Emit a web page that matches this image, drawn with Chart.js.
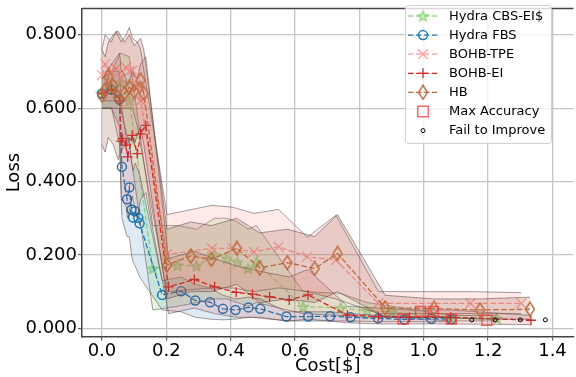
<!DOCTYPE html>
<html>
<head>
<meta charset="utf-8">
<script src="https://cdn.jsdelivr.net/npm/chart.js@4.4.1/dist/chart.umd.min.js"></script>
<style>
html, body { margin: 0; padding: 0; background: #ffffff; overflow: hidden; }
#wrap { width: 576px; height: 377px; overflow: hidden; }
</style>
</head>
<body>
<div id="wrap"><canvas id="myChart" width="582" height="377"></canvas></div>
<script>
// 目盛り
var x_ticks = [0.0, 0.2, 0.4, 0.6, 0.8, 1.0, 1.2, 1.4];
var y_ticks = [0.0, 0.2, 0.4, 0.6, 0.8];

// Hydra CBS-EI$
var cbs_cost = [0.0, 0.03, 0.057, 0.085, 0.158, 0.235, 0.294, 0.35, 0.388, 0.421, 0.454, 0.48, 0.625, 0.742, 0.824, 0.9, 1.085, 1.227];
var cbs_loss = [0.64, 0.65, 0.67, 0.62, 0.163, 0.172, 0.17, 0.2, 0.19, 0.181, 0.163, 0.181, 0.059, 0.056, 0.047, 0.045, 0.027, 0.027];
var cbs_lo   = [0.6, 0.6, 0.6, 0.5, 0.05, 0.06, 0.07, 0.08, 0.08, 0.07, 0.06, 0.07, 0.04, 0.035, 0.03, 0.03, 0.02, 0.02];
var cbs_hi   = [0.68, 0.7, 0.75, 0.74, 0.28, 0.28, 0.27, 0.3, 0.3, 0.29, 0.27, 0.28, 0.1, 0.095, 0.07, 0.06, 0.035, 0.035];

// Hydra FBS
var fbs_cost = [0.0, 0.03, 0.054, 0.062, 0.078, 0.085, 0.092, 0.097, 0.103, 0.113, 0.117, 0.187, 0.246, 0.29, 0.336, 0.376, 0.415, 0.455, 0.492, 0.573, 0.641, 0.709, 0.772, 0.858, 0.94, 1.023, 1.086];
var fbs_loss = [0.64, 0.65, 0.624, 0.44, 0.352, 0.384, 0.324, 0.302, 0.319, 0.301, 0.286, 0.091, 0.101, 0.076, 0.071, 0.053, 0.05, 0.057, 0.053, 0.032, 0.032, 0.033, 0.03, 0.027, 0.024, 0.026, 0.025];
var fbs_lo   = [0.6, 0.6, 0.55, 0.3, 0.25, 0.25, 0.2, 0.18, 0.17, 0.15, 0.14, 0.05, 0.045, 0.03, 0.025, 0.023, 0.025, 0.03, 0.03, 0.02, 0.02, 0.02, 0.02, 0.018, 0.018, 0.018, 0.018];
var fbs_hi   = [0.68, 0.7, 0.7, 0.6, 0.5, 0.52, 0.45, 0.43, 0.45, 0.43, 0.42, 0.13, 0.14, 0.12, 0.11, 0.09, 0.08, 0.085, 0.08, 0.045, 0.045, 0.045, 0.04, 0.035, 0.032, 0.032, 0.032];

// BOHB-TPE
var tpe_cost = [0.0, 0.01, 0.029, 0.044, 0.06, 0.075, 0.085, 0.095, 0.11, 0.12, 0.202, 0.342, 0.406, 0.472, 0.549, 0.638, 0.727, 0.859, 1.145, 1.303];
var tpe_loss = [0.69, 0.72, 0.698, 0.708, 0.68, 0.712, 0.7, 0.703, 0.66, 0.62, 0.202, 0.218, 0.218, 0.208, 0.222, 0.195, 0.186, 0.068, 0.068, 0.068];
var tpe_lo   = [0.62, 0.62, 0.62, 0.62, 0.6, 0.6, 0.6, 0.6, 0.55, 0.5, 0.1, 0.11, 0.11, 0.1, 0.11, 0.1, 0.08, 0.04, 0.04, 0.04];
var tpe_hi   = [0.76, 0.8, 0.78, 0.81, 0.78, 0.8, 0.82, 0.79, 0.78, 0.76, 0.31, 0.335, 0.33, 0.313, 0.324, 0.248, 0.308, 0.1, 0.1, 0.097];

// BOHB-EI
var ei_cost = [0.0, 0.03, 0.055, 0.06, 0.064, 0.075, 0.08, 0.094, 0.11, 0.12, 0.136, 0.207, 0.287, 0.35, 0.417, 0.468, 0.521, 0.582, 0.64, 0.763, 0.859, 0.956, 1.084, 1.333];
var ei_loss = [0.64, 0.65, 0.62, 0.51, 0.517, 0.499, 0.467, 0.526, 0.476, 0.53, 0.553, 0.113, 0.133, 0.113, 0.098, 0.093, 0.086, 0.077, 0.091, 0.036, 0.032, 0.03, 0.03, 0.022];
var ei_lo   = [0.6, 0.6, 0.5, 0.35, 0.35, 0.33, 0.3, 0.36, 0.3, 0.35, 0.37, 0.04, 0.055, 0.04, 0.03, 0.03, 0.025, 0.02, 0.025, 0.015, 0.012, 0.012, 0.012, 0.01];
var ei_hi   = [0.68, 0.72, 0.75, 0.7, 0.7, 0.68, 0.66, 0.7, 0.68, 0.72, 0.74, 0.19, 0.21, 0.19, 0.17, 0.16, 0.15, 0.14, 0.16, 0.06, 0.055, 0.05, 0.05, 0.035];

// HB
var hb_cost = [0.0, 0.01, 0.02, 0.035, 0.05, 0.07, 0.085, 0.1, 0.12, 0.13, 0.202, 0.276, 0.34, 0.419, 0.49, 0.576, 0.661, 0.732, 0.88, 1.032, 1.175, 1.33];
var hb_loss = [0.635, 0.65, 0.685, 0.66, 0.63, 0.64, 0.657, 0.645, 0.676, 0.64, 0.172, 0.197, 0.188, 0.218, 0.164, 0.179, 0.163, 0.204, 0.056, 0.054, 0.05, 0.052];
var hb_lo   = [0.5, 0.48, 0.52, 0.5, 0.46, 0.5, 0.52, 0.5, 0.55, 0.5, 0.08, 0.1, 0.1, 0.12, 0.07, 0.08, 0.07, 0.1, 0.03, 0.03, 0.025, 0.025];
var hb_hi   = [0.76, 0.74, 0.78, 0.8, 0.81, 0.78, 0.8, 0.77, 0.79, 0.76, 0.27, 0.29, 0.28, 0.3, 0.26, 0.27, 0.25, 0.31, 0.09, 0.08, 0.08, 0.085];

// Max Accuracy / Fail to Improve
var max_cost = [0.936, 0.99, 1.03, 1.086, 1.196];
var max_loss = [0.025, 0.046, 0.046, 0.025, 0.022];
var fail_cost = [1.149, 1.222, 1.30, 1.378];
var fail_loss = [0.023, 0.023, 0.023, 0.023];

/* 座標の配列を作る */
function pts(xs, ys) {
	var out = [];
	for (var i = 0; i < xs.length; i++) out.push({x: xs[i], y: ys[i]});
	return out;
}

/* マーカー画像 */
function make_star(color, fill) {
	var c = document.createElement('canvas');
	c.width = 13; c.height = 13;
	var g = c.getContext('2d');
	g.beginPath();
	for (var i = 0; i < 10; i++) {
		var r = (i % 2 == 0) ? 5.5 : 2.3;
		var a = -Math.PI / 2 + i * Math.PI / 5;
		var px = 6.5 + r * Math.cos(a), py = 7 + r * Math.sin(a);
		if (i == 0) g.moveTo(px, py); else g.lineTo(px, py);
	}
	g.closePath();
	g.fillStyle = fill;
	g.fill();
	g.strokeStyle = color;
	g.lineWidth = 1.2;
	g.stroke();
	return c;
}
function make_diamond(color) {
	var c = document.createElement('canvas');
	c.width = 12; c.height = 16;
	var g = c.getContext('2d');
	g.beginPath();
	g.moveTo(6, 1); g.lineTo(10.5, 8); g.lineTo(6, 15); g.lineTo(1.5, 8);
	g.closePath();
	g.strokeStyle = color;
	g.lineWidth = 1.4;
	g.stroke();
	return c;
}

var edge_color = 'rgba(80,60,60,0.5)';

var series = [
	{name: 'Hydra CBS-EI$', cost: cbs_cost, loss: cbs_loss, lo: cbs_lo, hi: cbs_hi, color: '#98df8a', band: 'rgba(152,223,138,0.25)', style: make_star('#8fd67f', 'rgba(152,223,138,0.45)'), radius: 6, bw: 1.2},
	{name: 'Hydra FBS', cost: fbs_cost, loss: fbs_loss, lo: fbs_lo, hi: fbs_hi, color: '#1f77b4', band: 'rgba(31,119,180,0.15)', style: 'circle', radius: 4.5, bw: 1.5},
	{name: 'BOHB-TPE', cost: tpe_cost, loss: tpe_loss, lo: tpe_lo, hi: tpe_hi, color: '#ff9896', band: 'rgba(255,152,150,0.2)', style: 'crossRot', radius: 7, bw: 1.2},
	{name: 'BOHB-EI', cost: ei_cost, loss: ei_loss, lo: ei_lo, hi: ei_hi, color: '#d62728', band: 'rgba(214,39,40,0.13)', style: 'cross', radius: 5, bw: 1.3},
	{name: 'HB', cost: hb_cost, loss: hb_loss, lo: hb_lo, hi: hb_hi, color: '#bc6a3c', band: 'rgba(150,90,70,0.22)', style: make_diamond('#bc6a3c'), radius: 6, bw: 1.4}
];

var datasets = [];
for (var i = 0; i < series.length; i++) {
	var s = series[i];
	datasets.push({
		data: pts(s.cost, s.hi), borderColor: edge_color, borderWidth: 1,
		backgroundColor: s.band, fill: '+1', pointRadius: 0, tension: 0
	});
	datasets.push({
		data: pts(s.cost, s.lo), borderColor: edge_color, borderWidth: 1,
		fill: false, pointRadius: 0, tension: 0
	});
	datasets.push({
		data: pts(s.cost, s.loss), borderColor: s.color, borderWidth: 1.3, borderDash: [5.5, 2.4],
		fill: false, tension: 0, pointStyle: s.style, pointRadius: s.radius,
		pointBorderColor: s.color, pointBackgroundColor: 'rgba(0,0,0,0)', pointBorderWidth: s.bw
	});
}
datasets.push({
	data: pts(max_cost, max_loss), showLine: false, pointStyle: 'rect', pointRadius: 7,
	pointBorderColor: 'rgba(240,60,60,0.8)', pointBackgroundColor: 'rgba(0,0,0,0)', pointBorderWidth: 1.5
});
datasets.push({
	data: pts(fail_cost, fail_loss), showLine: false, pointStyle: 'circle', pointRadius: 2,
	pointBorderColor: '#000000', pointBackgroundColor: 'rgba(0,0,0,0)', pointBorderWidth: 1
});
// 後の系列を上に描く
for (var i = 0; i < datasets.length; i++) datasets[i].order = 1000 - i;

/* 凡例 */
var legend_items = [
	{text: 'Hydra CBS-EI$', s: series[0]},
	{text: 'Hydra FBS', s: series[1]},
	{text: 'BOHB-TPE', s: series[2]},
	{text: 'BOHB-EI', s: series[3]},
	{text: 'HB', s: series[4]},
	{text: 'Max Accuracy', s: {color: 'rgba(240,60,60,0.75)', style: 'rect', radius: 7.5, bw: 1.5}, noline: true},
	{text: 'Fail to Improve', s: {color: '#000000', style: 'circle', radius: 2, bw: 1}, noline: true}
];

function draw_marker(ctx, st, r, bw, color, x, y) {
	ctx.save();
	ctx.setLineDash([]);
	ctx.strokeStyle = color;
	ctx.lineWidth = bw;
	ctx.beginPath();
	if (typeof st !== 'string') {
		ctx.drawImage(st, x - st.width / 2, y - st.height / 2);
	} else if (st == 'circle') {
		ctx.arc(x, y, r, 0, Math.PI * 2);
		ctx.stroke();
	} else if (st == 'rect') {
		var h = r / Math.SQRT2;
		ctx.rect(x - h, y - h, 2 * h, 2 * h);
		ctx.stroke();
	} else if (st == 'cross') {
		ctx.moveTo(x - r, y); ctx.lineTo(x + r, y);
		ctx.moveTo(x, y - r); ctx.lineTo(x, y + r);
		ctx.stroke();
	} else if (st == 'crossRot') {
		var d = r * Math.SQRT1_2;
		ctx.moveTo(x - d, y - d); ctx.lineTo(x + d, y + d);
		ctx.moveTo(x - d, y + d); ctx.lineTo(x + d, y - d);
		ctx.stroke();
	}
	ctx.restore();
}

var legend_plugin = {
	id: 'my_legend',
	afterDraw: function(chart) {
		var ctx = chart.ctx;
		var area = chart.chartArea;
		ctx.save();
		// 上の枠線
		ctx.strokeStyle = '#444444';
		ctx.lineWidth = 1.3;
		ctx.beginPath();
		ctx.moveTo(area.left, area.top);
		ctx.lineTo(area.right, area.top);
		ctx.stroke();

		// 凡例の枠
		var bx = 405.5, by = 5.5, bw = 146, bh = 138, rr = 3;
		ctx.beginPath();
		ctx.moveTo(bx + rr, by);
		ctx.arcTo(bx + bw, by, bx + bw, by + bh, rr);
		ctx.arcTo(bx + bw, by + bh, bx, by + bh, rr);
		ctx.arcTo(bx, by + bh, bx, by, rr);
		ctx.arcTo(bx, by, bx + bw, by, rr);
		ctx.closePath();
		ctx.fillStyle = 'rgba(255,255,255,0.8)';
		ctx.fill();
		ctx.strokeStyle = '#d0d0d0';
		ctx.lineWidth = 1;
		ctx.stroke();

		ctx.font = '13px "DejaVu Sans"';
		ctx.textBaseline = 'middle';
		ctx.textAlign = 'left';
		for (var i = 0; i < legend_items.length; i++) {
			var it = legend_items[i];
			var y = 16 + i * 19.1;
			if (!it.noline) {
				ctx.save();
				ctx.strokeStyle = it.s.color;
				ctx.lineWidth = 1.3;
				ctx.setLineDash([5.5, 2.4]);
				ctx.beginPath();
				ctx.moveTo(408, y);
				ctx.lineTo(438, y);
				ctx.stroke();
				ctx.restore();
			}
			draw_marker(ctx, it.s.style, it.s.radius, it.s.bw, it.s.color, 423, y);
			ctx.fillStyle = '#000000';
			ctx.fillText(it.text, 449, y + 0.5);
		}
		ctx.restore();
	}
};

var ctx = document.getElementById('myChart').getContext('2d');
var myChart = new Chart(ctx, {
	type: 'line',
	data: { datasets: datasets },
	plugins: [legend_plugin],
	options: {
		responsive: false,
		animation: false,
		devicePixelRatio: 1,
		layout: { padding: { top: 8, left: 0, right: 0, bottom: 0 } },
		plugins: {
			legend: { display: false },
			tooltip: { enabled: false }
		},
		scales: {
			x: {
				type: 'linear',
				min: -0.062,
				max: 1.4653,
				afterBuildTicks: function(s) { s.ticks = x_ticks.map(function(v) { return {value: v}; }); },
				afterFit: function(s) { s.height = 40.3; s.paddingLeft = 0; s.paddingRight = 0; },
				grid: { color: '#c4c4c4', lineWidth: 1.3, tickLength: 4, tickColor: '#444444', tickWidth: 1 },
				border: { color: '#444444', width: 1.5 },
				ticks: {
					color: '#000000', padding: 0, maxRotation: 0,
					font: { family: 'DejaVu Sans', size: 18 },
					callback: function(v) { return Number(v).toFixed(1); }
				},
				title: {
					display: true, text: 'Cost[$]', color: '#000000',
					font: { family: 'DejaVu Sans', size: 18 },
					padding: { top: 0, bottom: 0 }
				}
			},
			y: {
				min: -0.0229,
				max: 0.8716,
				afterBuildTicks: function(s) { s.ticks = y_ticks.map(function(v) { return {value: v}; }); },
				afterFit: function(s) { s.width = 82; s.paddingTop = 0; s.paddingBottom = 0; },
				grid: { color: '#c4c4c4', lineWidth: 1.3, tickLength: 4, tickColor: '#444444', tickWidth: 1 },
				border: { color: '#444444', width: 1.5 },
				ticks: {
					color: '#000000', padding: 1,
					font: { family: 'DejaVu Sans', size: 18 },
					callback: function(v) { return Number(v).toFixed(3); }
				},
				title: {
					display: true, text: 'Loss', color: '#000000',
					font: { family: 'DejaVu Sans', size: 18 },
					padding: { top: 4, bottom: 0 }
				}
			}
		}
	}
});
</script>
</body>
</html>
